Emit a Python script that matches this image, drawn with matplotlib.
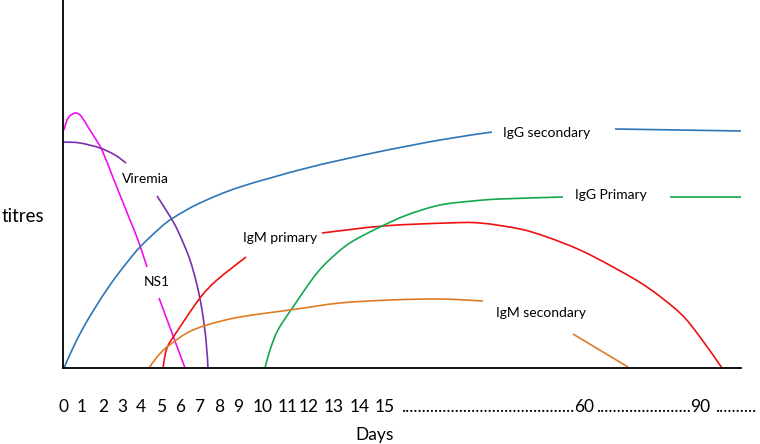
import matplotlib.pyplot as plt
from matplotlib.path import Path
from matplotlib.patches import PathPatch

# schematic units: x along the time axis, y = titre (both arbitrary)
ns1_x1 = [1, 4, 8, 13, 18, 25, 32, 39, 49, 59, 67, 75, 84]
ns1_y1 = [238, 248, 253, 255, 252, 241, 230, 218, 193, 168, 148, 128, 101]
ns1_x2 = [96, 109, 122]
ns1_y2 = [70, 35, 0]

vir_x1 = [1, 17, 37, 52, 63]
vir_y1 = [226, 225, 220, 213, 205]
vir_x2 = [94, 103, 112, 119, 127, 134, 139, 143, 145]
vir_y2 = [172, 158, 143, 128, 108, 83, 58, 28, 0]

igg2_x1 = [1, 9, 19, 32, 47, 62, 77, 97, 110, 137, 177, 244, 310, 377, 429]
igg2_y1 = [0, 18, 38, 60, 83, 103, 121, 140, 150, 165, 181, 200, 215, 228, 236]
igg2_x2 = [552, 679]
igg2_y2 = [239, 237]

igm1_x1 = [100, 104, 115, 137, 154, 183]
igm1_y1 = [0, 20, 38, 70, 88, 111]
igm1_x2 = [259, 320, 384, 417, 457, 484, 517, 550, 584, 617, 637, 659]
igm1_y2 = [135, 142, 145, 145, 139, 131, 118, 101, 81, 55, 31, 0]

igg1_x1 = [202, 207, 215, 230, 254, 274, 290, 317, 344, 377, 410, 437, 500]
igg1_y1 = [0, 18, 38, 61, 95, 115, 127, 141, 153, 163, 167, 169, 171]
igg1_x2 = [607, 679]
igg1_y2 = [171, 171]

igm2_x1 = [86, 94, 104, 124, 144, 177, 234, 277, 327, 377, 420]
igm2_y1 = [0, 11, 21, 35, 43, 51, 59, 65, 68, 69, 67]
igm2_x2 = [510, 565]
igm2_y2 = [34, 1]

day_labels = ['0', '1', '2', '3', '4', '5', '6', '7', '8', '9', '10', '11',
              '12', '13', '14', '15', '.' * 42, '60', '.' * 23, '90', '.' * 10]
day_pos = [1, 19, 40, 59, 78, 98, 117, 136, 156, 175, 200, 225,
           246, 271, 297, 322, 425, 521, 580, 637, 673]


def smooth(ax, xs, ys, color):
    # draw the read points joined by a Catmull-Rom style bezier path
    pts = list(zip(xs, ys))
    verts = [pts[0]]
    codes = [Path.MOVETO]
    n = len(pts)
    for i in range(n - 1):
        p0 = pts[i - 1] if i > 0 else pts[i]
        p1 = pts[i]
        p2 = pts[i + 1]
        p3 = pts[i + 2] if i + 2 < n else pts[i + 1]
        c1 = (p1[0] + (p2[0] - p0[0]) / 6, p1[1] + (p2[1] - p0[1]) / 6)
        c2 = (p2[0] - (p3[0] - p1[0]) / 6, p2[1] - (p3[1] - p1[1]) / 6)
        verts += [c1, c2, p2]
        codes += [Path.CURVE4] * 3
    ax.add_patch(PathPatch(Path(verts, codes), fill=False, edgecolor=color, lw=1.2))


plt.rcParams['font.family'] = ['Lato', 'DejaVu Sans']

fig = plt.figure(figsize=(7.6, 4.44), dpi=100)
ax = fig.add_axes([63 / 760, 76 / 444, 678 / 760, 368 / 444])

smooth(ax, ns1_x1, ns1_y1, '#F010F0')
smooth(ax, ns1_x2, ns1_y2, '#F010F0')
smooth(ax, vir_x1, vir_y1, '#7B2FB0')
smooth(ax, vir_x2, vir_y2, '#7B2FB0')
smooth(ax, igg2_x1, igg2_y1, '#2E75B6')
smooth(ax, igg2_x2, igg2_y2, '#2E75B6')
smooth(ax, igm1_x1, igm1_y1, '#EE1111')
smooth(ax, igm1_x2, igm1_y2, '#EE1111')
smooth(ax, igg1_x1, igg1_y1, '#12A84E')
smooth(ax, igg1_x2, igg1_y2, '#12A84E')
smooth(ax, igm2_x1, igm2_y1, '#E07B22')
smooth(ax, igm2_x2, igm2_y2, '#E07B22')

fs = 10
ax.text(82, 189, 'Viremia', fontsize=fs, ha='center', va='center')
ax.text(94, 86, 'NS1', fontsize=fs, ha='center', va='center')
ax.text(217, 130, 'IgM primary', fontsize=fs, ha='center', va='center')
ax.text(484, 235, 'IgG secondary', fontsize=fs, ha='center', va='center')
ax.text(548, 173, 'IgG Primary', fontsize=fs, ha='center', va='center')
ax.text(478, 55, 'IgM secondary', fontsize=fs, ha='center', va='center')

ax.set_xlim(0, 678)
ax.set_ylim(0, 368)
for s in ['top', 'right']:
    ax.spines[s].set_visible(False)
ax.spines['left'].set_linewidth(1.3)
ax.spines['bottom'].set_linewidth(1.3)
ax.set_yticks([])
ax.set_xticks(day_pos, day_labels, fontsize=12.5)
ax.tick_params(axis='x', length=0, pad=22)

fig.text(375 / 760, 1 - 435 / 444, 'Days', fontsize=12.5, ha='center', va='center')
fig.text(2 / 760, 1 - 216 / 444, 'titres', fontsize=13.5, ha='left', va='center')

fig.savefig('out.png', dpi=100)
